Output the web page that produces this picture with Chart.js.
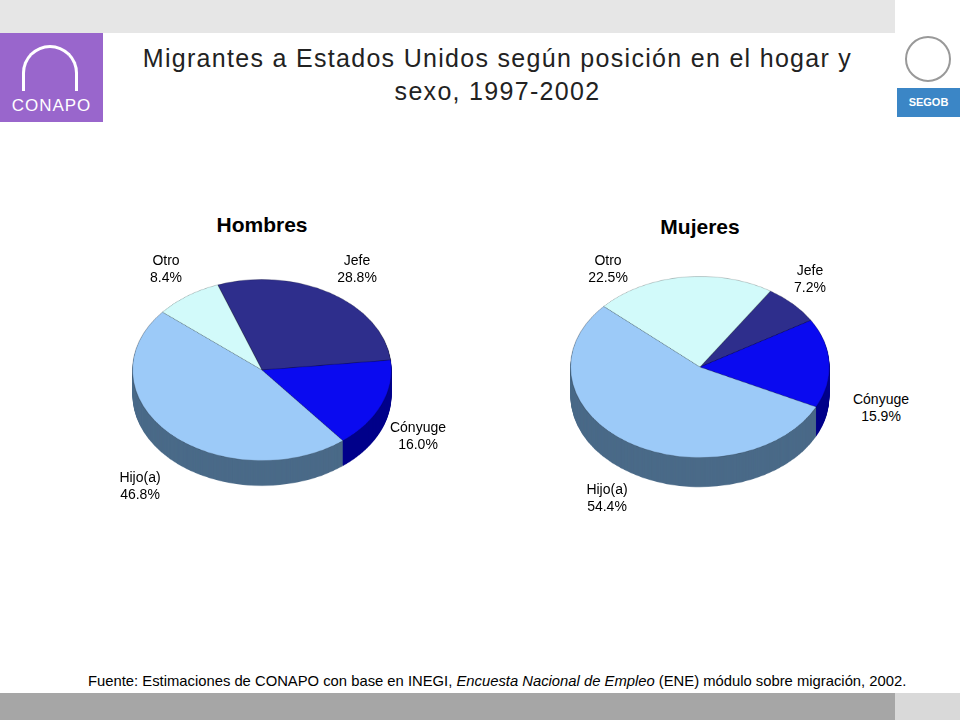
<!DOCTYPE html>
<html><head><meta charset="utf-8">
<script src="https://cdn.jsdelivr.net/npm/chart.js@4"></script>
<style>
  body { margin:0; width:960px; height:720px; position:relative; background:#fff; font-family:"Liberation Sans",Arial,sans-serif; overflow:hidden; }
  .abs { position:absolute; }
  .lbl { position:absolute; font-size:14px; line-height:17px; text-align:center; transform:translateX(-50%); color:#000; }
  .pie { position:absolute; width:280px; height:316px; transform:scaleY(0.7); transform-origin:0 0; }
</style></head>
<body>
<div class="abs" style="left:0;top:0;width:895px;height:33px;background:#e6e6e6"></div>
<div class="abs" style="left:0;top:693px;width:895px;height:27px;background:#a6a6a6"></div>
<div class="abs" style="left:895px;top:693px;width:65px;height:27px;background:#d9d9d9"></div>
<div class="abs" style="left:0;top:33px;width:103px;height:89px;background:#9966cc"></div>
<div class="abs" style="left:0;top:96px;width:103px;text-align:center;color:#fff;font-size:17px;letter-spacing:1px">CONAPO</div>
<div class="abs" style="left:22px;top:45px;width:56px;height:46px;border:3px solid #fff;border-bottom:none;border-radius:30px 30px 0 0;box-sizing:border-box"></div>
<div class="abs" style="left:905px;top:36px;width:46px;height:46px;border:2px solid #999;border-radius:50%;box-sizing:border-box"></div>
<div class="abs" style="left:897px;top:88px;width:63px;height:29px;background:#3b86c6;color:#fff;font-size:11px;font-weight:bold;text-align:center;line-height:29px">SEGOB</div>
<div class="abs" style="left:110px;top:42px;width:775px;text-align:center;font-size:25px;letter-spacing:1.3px;line-height:33px;color:#222;white-space:nowrap">Migrantes a Estados Unidos según posición en el hogar y<br>sexo, 1997-2002</div>

<div class="abs" style="left:162px;top:213px;width:200px;text-align:center;font-size:21px;font-weight:bold">Hombres</div>
<div class="abs" style="left:600px;top:215px;width:200px;text-align:center;font-size:21px;font-weight:bold">Mujeres</div>

<div class="pie" style="left:122px;top:272px"><canvas id="hombres"></canvas></div>
<div class="pie" style="left:560px;top:269px"><canvas id="mujeres"></canvas></div>

<div class="lbl" style="left:166px;top:252px">Otro<br>8.4%</div>
<div class="lbl" style="left:357px;top:252px">Jefe<br>28.8%</div>
<div class="lbl" style="left:418px;top:419px">Cónyuge<br>16.0%</div>
<div class="lbl" style="left:140px;top:469px">Hijo(a)<br>46.8%</div>
<div class="lbl" style="left:608px;top:252px">Otro<br>22.5%</div>
<div class="lbl" style="left:810px;top:262px">Jefe<br>7.2%</div>
<div class="lbl" style="left:881px;top:391px">Cónyuge<br>15.9%</div>
<div class="lbl" style="left:607px;top:481px">Hijo(a)<br>54.4%</div>

<div class="abs" style="left:88px;top:673px;font-size:14.8px;color:#000;white-space:nowrap">Fuente: Estimaciones de CONAPO con base en INEGI, <i>Encuesta Nacional de Empleo</i> (ENE) módulo sobre migración, 2002.</div>

<script>
'use strict';

const categories = ['Jefe', 'Cónyuge', 'Hijo(a)', 'Otro'];
const hombresValues = [28.8, 16.0, 46.8, 8.4];
const mujeresValues = [7.2, 15.9, 54.4, 22.5];

const TOP_COLORS = ['#2e2e8c', '#0a0af0', '#9ccaf8', '#d2fafa'];
const SIDE_COLORS = ['#15154a', '#00008a', '#4a6a88', '#6a8a8a'];

// draws the pie side by stacking darker copies below each slice
function depthPlugin(depth) {
  return {
    id: 'depth',
    beforeDatasetsDraw(chart) {
      const ctx = chart.ctx;
      const arcs = chart.getDatasetMeta(0).data;
      ctx.save();
      for (let k = depth; k >= 1; k--) {
        arcs.forEach((a, i) => {
          ctx.fillStyle = SIDE_COLORS[i];
          ctx.beginPath();
          ctx.moveTo(a.x, a.y + k);
          ctx.arc(a.x, a.y + k, a.outerRadius, a.startAngle, a.endAngle);
          ctx.closePath();
          ctx.fill();
        });
      }
      ctx.restore();
    },
  };
}

function createPie(canvasId, values, rotation, depth) {
  const canvas = document.getElementById(canvasId);
  return new Chart(canvas, {
    type: 'pie',
    data: {
      labels: categories,
      datasets: [{ data: values, backgroundColor: TOP_COLORS, borderColor: 'rgba(0,0,0,0.25)', borderWidth: 1 }],
    },
    options: {
      responsive: true,
      maintainAspectRatio: false,
      animation: false,
      rotation,
      layout: { padding: { top: 10, left: 10, right: 10, bottom: 46 } },
      plugins: { legend: { display: false }, tooltip: { enabled: false } },
    },
    plugins: [depthPlugin(depth)],
  });
}

createPie('hombres', hombresValues, -20, 36);
createPie('mujeres', mujeresValues, 33, 42);
</script>
</body></html>
